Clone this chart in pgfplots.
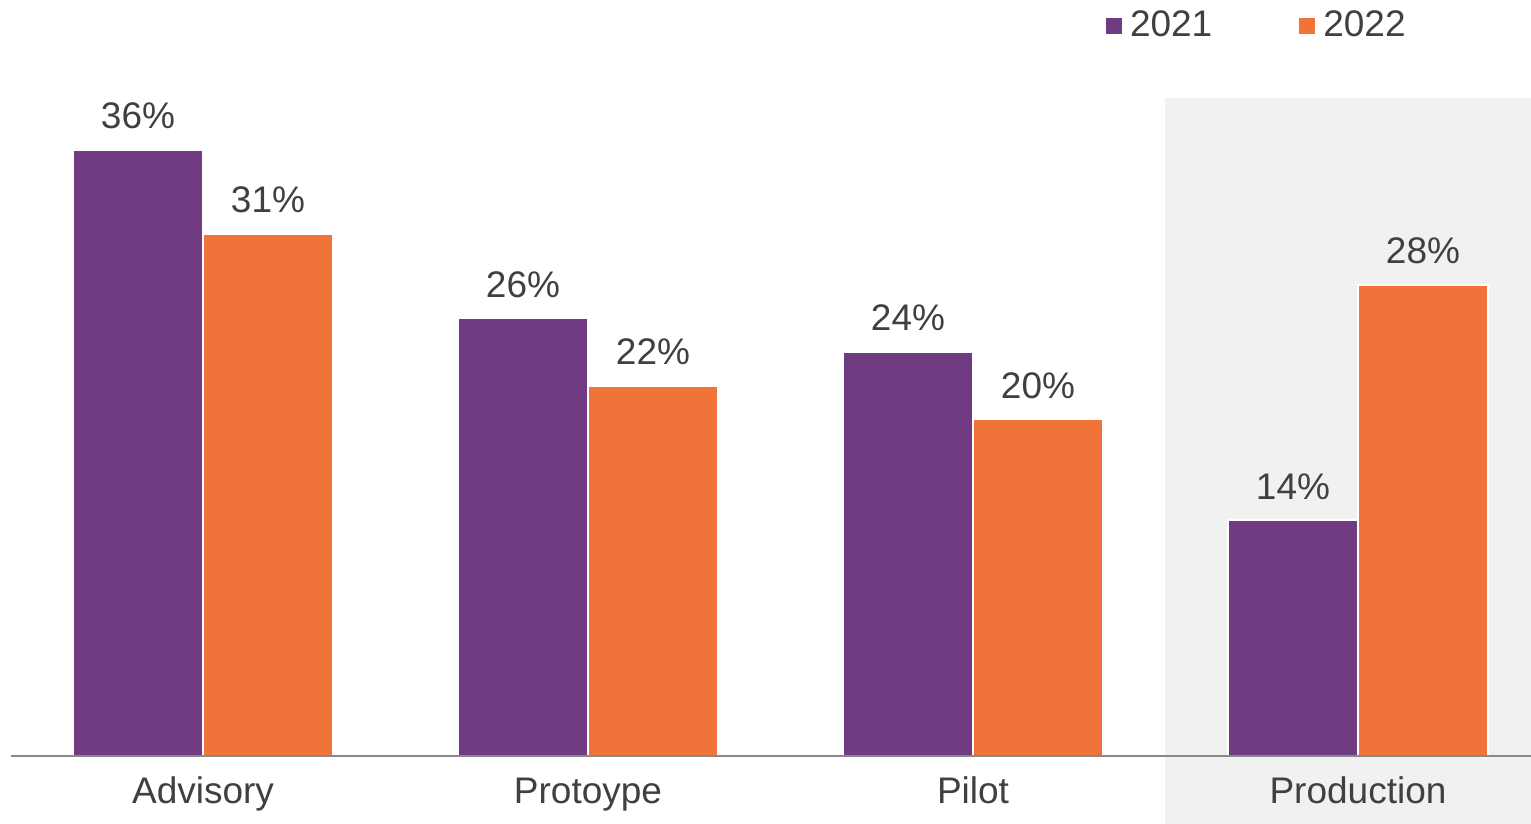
\documentclass[border=0pt]{standalone}
\usepackage{pgfplots}
\pgfplotsset{compat=1.18}
\usepackage{fontspec}
\setmainfont{Liberation Sans}
\definecolor{cpurple}{HTML}{703B80}
\definecolor{corange}{HTML}{F0733A}
\definecolor{bggray}{HTML}{F1F1F1}
\definecolor{txtgray}{HTML}{404040}
\definecolor{axgray}{HTML}{898989}
\begin{document}
\begin{tikzpicture}
\begin{axis}[
  x=192.5pt, y=8.415pt,
  xmin=-0.5, xmax=3.4494, ymin=0, ymax=39.1,
  clip=false, axis on top,
  axis x line=bottom, axis y line=none,
  x axis line style={-, draw=axgray, line width=1pt},
  xtick={0,1,2,3}, xticklabels={Advisory,Protoype,Pilot,Production},
  major tick length=0pt,
  /pgf/number format/assume math mode=true,
  xticklabel style={font=\fontsize{18.5}{22}\selectfont, text=txtgray, anchor=base, inner sep=0pt, yshift=-24pt},
  nodes near coords={\pgfmathprintnumber{\pgfplotspointmeta}\%},
  nodes near coords style={font=\fontsize{18.5}{22}\selectfont, text=txtgray, anchor=south, inner sep=0pt, yshift=10pt},
  legend columns=2,
  legend image code/.code={\fill[#1, draw=none] (0pt,-4.5pt) rectangle (8pt,3.5pt);},
  legend style={at={(axis cs:2.3455,43.45)}, anchor=west, draw=none, fill=none,
    inner sep=0pt, outer sep=0pt, font=\fontsize{18.5}{22}\selectfont, text=txtgray,
    nodes={inner sep=0pt},
    /tikz/every odd column/.append style={column sep=4pt},
    /tikz/every even column/.append style={column sep=43.5pt}},
]
\fill[bggray] (axis cs:2.5,-4.04) rectangle (axis cs:3.4494,39.1);
\addplot[ybar, bar width=0.3377, bar shift=-0.1688, fill=cpurple, draw=white, line width=1pt,
  every node near coord/.append style={xshift=-32.5pt}]
  coordinates {(0,36) (1,26) (2,24) (3,14)};
\addplot[ybar, bar width=0.3377, bar shift=0.1688, fill=corange, draw=white, line width=1pt,
  every node near coord/.append style={xshift=32.5pt}]
  coordinates {(0,31) (1,22) (2,20) (3,28)};
\legend{2021,2022}
\coordinate (bl) at (axis cs:-0.5273,-4.04);
\coordinate (tr) at (axis cs:3.4494,44.92);
\end{axis}
\pgfresetboundingbox
\path (bl) rectangle (tr);
\end{tikzpicture}
\end{document}
